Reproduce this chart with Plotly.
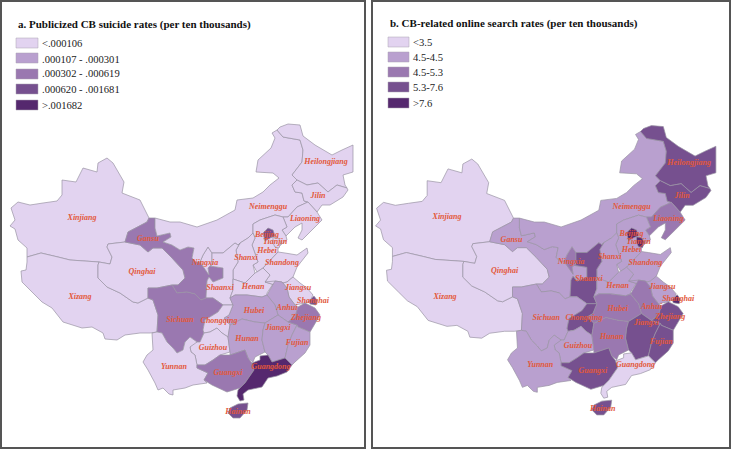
import plotly.graph_objects as go

W, H = 733, 450

# Province outlines, in map units
XINJIANG = [(107,158),(98,163),(97,172),(83,168),(76,182),(62,180),(62,195),(57,201),(43,203),(30,205),(18,202),(11,208),(15,220),(10,226),(15,229),(18,240),(27,248),(27,257),(41,253),(58,257),(70,260),(99,262),(110,264),(112,257),(107,247),(108,244),(125,242),(128,232),(147,222),(149,218),(140,200),(122,193),(124,182),(113,163)]
XIZANG = [(27,257),(41,253),(58,257),(70,260),(99,262),(98,265),(98,278),(107,287),(120,293),(133,302),(138,303),(148,298),(153,300),(158,315),(157,332),(150,333),(140,333),(125,335),(117,340),(105,339),(103,333),(92,327),(82,328),(63,322),(52,308),(42,302),(33,293),(22,282),(21,271),(26,270),(27,262)]
QINGHAI = [(99,262),(110,264),(112,257),(107,247),(108,244),(125,242),(140,245),(148,252),(153,248),(162,248),(172,258),(183,270),(185,278),(178,285),(172,285),(157,288),(148,288),(148,298),(138,303),(133,302),(120,293),(107,287),(98,278),(98,265)]
GANSU = [(125,242),(128,232),(147,222),(149,218),(155,218),(155,228),(157,236),(170,233),(171,237),(163,242),(172,245),(180,250),(188,247),(194,248),(192,258),(196,262),(200,262),(209,275),(208,268),(210,266),(223,268),(223,278),(213,282),(209,277),(207,281),(206,298),(201,300),(195,294),(187,292),(177,293),(172,285),(178,285),(185,278),(183,270),(172,258),(162,248),(153,248),(148,252),(140,245)]
NINGXIA = [(208,247),(203,255),(200,262),(209,275),(208,268),(210,266),(212,265),(212,253)]
NEIMENGGU = [(155,218),(170,222),(180,222),(197,227),(217,220),(235,210),(237,200),(253,198),(263,192),(270,185),(279,178),(273,173),(256,172),(258,160),(271,148),(275,138),(272,133),(277,130),(283,137),(300,140),(303,150),(302,162),(292,175),(297,180),(292,185),(295,192),(302,193),(304,201),(308,202),(297,207),(288,217),(283,217),(275,215),(260,220),(253,224),(253,233),(248,238),(240,243),(238,245),(235,243),(223,253),(212,253),(208,247),(203,255),(200,262),(196,262),(192,258),(194,248),(188,247),(180,250),(172,245),(163,242),(171,237),(170,233),(157,236),(155,228)]
HEILONGJIANG = [(277,130),(280,127),(288,124),(300,125),(303,136),(315,145),(332,155),(342,150),(353,145),(353,172),(343,175),(345,185),(347,188),(337,185),(328,192),(318,183),(307,185),(297,180),(292,175),(302,162),(303,150),(300,140),(283,137)]
JILIN = [(297,180),(307,185),(318,183),(328,192),(337,185),(347,188),(348,190),(343,197),(330,205),(322,205),(317,212),(308,202),(304,201),(302,193),(295,192),(292,185)]
LIAONING = [(308,202),(297,207),(288,217),(283,217),(287,227),(282,230),(286,236),(295,227),(302,223),(302,230),(298,238),(302,240),(312,230),(322,220),(317,212)]
HEBEI = [(253,233),(253,224),(260,220),(275,215),(283,217),(287,227),(282,230),(286,236),(287,240),(278,247),(278,252),(263,268),(257,272),(253,265),(258,262),(252,245),(255,238)]
BEIJING = [(268,228),(273,230),(275,236),(270,238),(265,241),(263,233)]
TIANJIN = [(273,237),(278,238),(281,242),(279,248),(275,247),(273,243)]
SHANXI = [(253,233),(248,238),(240,243),(236,250),(238,262),(233,270),(233,279),(245,283),(255,273),(253,265),(258,262),(252,245),(255,238)]
SHANDONG = [(278,252),(263,268),(270,275),(265,282),(275,285),(287,282),(293,277),(297,267),(308,253),(307,248),(297,255),(285,253)]
SHAANXI = [(212,253),(223,253),(235,243),(238,245),(240,243),(236,250),(238,262),(233,270),(233,279),(233,290),(230,298),(233,305),(223,305),(213,298),(206,298),(207,281),(209,277),(213,282),(223,278),(223,268),(210,266),(212,265)]
HENAN = [(233,279),(245,283),(255,273),(257,272),(263,268),(270,275),(265,282),(275,285),(275,281),(267,293),(267,295),(262,297),(247,295),(235,295),(230,298),(233,290)]
JIANGSU = [(265,282),(275,281),(282,282),(287,288),(289,297),(295,305),(305,303),(310,301),(313,295),(307,288),(300,283),(293,277),(287,282),(275,285)]
SHANGHAI = [(309,301),(314,296),(317,300),(316,305),(310,304)]
ANHUI = [(267,295),(275,281),(282,282),(287,288),(289,297),(295,305),(298,307),(295,317),(288,322),(278,315),(275,305)]
HUBEI = [(230,298),(235,295),(247,295),(262,297),(267,295),(275,305),(278,315),(265,323),(255,322),(242,319),(230,325),(224,318),(229,315),(233,305)]
SICHUAN = [(148,288),(157,288),(172,285),(177,293),(187,292),(195,294),(201,300),(206,298),(213,298),(223,305),(218,312),(205,320),(203,330),(204,333),(200,342),(197,342),(190,337),(185,342),(183,350),(177,353),(173,348),(167,342),(162,333),(157,332),(158,315),(153,300),(148,298)]
CHONGQING = [(205,320),(218,312),(223,305),(233,305),(229,315),(224,318),(230,325),(228,337),(222,333),(217,328),(210,332),(204,333),(203,330)]
GUIZHOU = [(190,347),(195,342),(200,342),(204,333),(210,332),(217,328),(222,333),(228,337),(230,352),(220,355),(213,360),(205,365),(197,365),(195,355),(191,352)]
YUNNAN = [(157,332),(162,333),(167,342),(173,348),(177,353),(183,350),(185,342),(190,337),(197,342),(190,347),(191,352),(195,355),(197,365),(197,368),(208,373),(204,380),(207,383),(193,385),(185,388),(173,390),(173,395),(169,394),(163,388),(158,390),(155,383),(148,370),(143,362),(147,355),(153,350),(152,333)]
HUNAN = [(230,325),(242,319),(255,322),(265,323),(263,330),(262,340),(265,352),(255,357),(253,362),(248,358),(245,350),(230,355),(230,352),(228,337)]
JIANGXI = [(263,330),(265,323),(278,315),(288,322),(297,325),(292,335),(288,345),(285,358),(272,362),(268,355),(265,352),(262,340)]
ZHEJIANG = [(295,317),(298,307),(305,303),(315,308),(320,315),(313,327),(310,332),(298,327),(297,325),(288,322)]
FUJIAN = [(297,325),(298,327),(310,332),(310,345),(305,353),(295,362),(292,365),(285,358),(288,345),(292,335)]
GUANGXI = [(197,368),(197,365),(205,365),(213,360),(220,355),(230,355),(245,350),(248,358),(252,363),(254,370),(245,383),(240,388),(227,392),(212,385),(204,380),(208,373)]
GUANGDONG = [(252,363),(260,360),(260,356),(268,355),(272,362),(285,358),(292,365),(287,372),(277,376),(268,378),(262,387),(248,390),(243,394),(244,400),(240,401),(237,396),(238,390),(245,383),(254,370)]
HAINAN = [(230,408),(238,404),(248,403),(247,410),(240,418),(233,418),(228,413)]

OUTLINES = [XINJIANG, XIZANG, QINGHAI, GANSU, NINGXIA, NEIMENGGU, HEILONGJIANG, JILIN, LIAONING, HEBEI, SHANXI, SHANDONG, SHAANXI, HENAN, JIANGSU, ANHUI, HUBEI, SICHUAN, CHONGQING, GUIZHOU, YUNNAN, HUNAN, JIANGXI, ZHEJIANG, FUJIAN, GUANGXI, GUANGDONG, HAINAN, BEIJING, TIANJIN, SHANGHAI]
# Rate class (0-4) of each outline above
CLASS_A = [0,0,0,2,0,0,0,0,0,0,0,0,0,0,0,1,1,2,0,0,0,1,1,2,1,2,4,3,3,0,3]
CLASS_B = [0,0,0,1,2,1,3,3,2,1,1,1,3,1,1,2,2,1,3,1,1,2,3,3,3,3,0,3,4,4,4]

COLORS = ["#E2D3F0", "#B9A0CF", "#9A78B0", "#76508F", "#55286E"]
TITLE_A = "a. Publicized CB suicide rates (per ten thousands)"
TITLE_B = "b. CB-related online search rates (per ten thousands)"
LEGEND_A = ["<.000106", ".000107 - .000301", ".000302 - .000619", ".000620 - .001681", ">.001682"]
LEGEND_B = ["<3.5", "4.5-4.5", "4.5-5.3", "5.3-7.6", ">7.6"]

LABELS = ["Xinjiang","Xizang","Qinghai","Gansu","Ningxia","Shaanxi","Sichuan","Chongqing","Guizhou","Yunnan","Guangxi","Guangdong","Hainan","Hunan","Hubei","Jiangxi","Anhui","Zhejiang","Fujian","Shanghai","Jiangsu","Shandong","Henan","Shanxi","Hebei","Tianjin","Beijing","Liaoning","Jilin","Heilongjiang","Neimenggu"]
LABEL_X = [82,80,142,148,205,220,180,219,213,174,228,271,238,247,254,278,287,306,297,313,298,282,253,246,267,275,267,305,318,326,268]
LABEL_Y = [218,297,272,239,263,288,320,321,348,367,373,367,412,339,311,328,308,318,343,301,288,263,287,258,251,242,235,219,196,162,207]
LABEL_X_B = [82,80,140,147,207,225,182,220,214,176,229,272,239,248,254,283,288,307,298,315,299,282,254,246,268,275,268,305,319,326,268]
LABEL_Y_B = [217,298,272,240,263,280,320,320,348,367,373,367,412,339,310,325,308,318,344,300,288,264,287,258,250,242,234,219,196,162,207]

fig = go.Figure()
for cls, ax, ay in ((CLASS_A, "x", "y"), (CLASS_B, "x2", "y2")):
    for poly, c in zip(OUTLINES, cls):
        fig.add_trace(go.Scatter(
            x=[p[0] for p in poly] + [poly[0][0]], y=[p[1] for p in poly] + [poly[0][1]],
            mode="lines", fill="toself", fillcolor=COLORS[c],
            line=dict(color="#9A93A3", width=0.7, simplify=False), xaxis=ax, yaxis=ay,
            showlegend=False, hoverinfo="skip"))
LABEL_FONT = dict(family="Liberation Serif", size=8, color="#E2583A", style="italic", weight="bold")
fig.add_trace(go.Scatter(x=LABEL_X, y=LABEL_Y, text=LABELS, mode="text", textposition="middle center",
                         textfont=LABEL_FONT, xaxis="x", yaxis="y", showlegend=False, hoverinfo="skip"))
fig.add_trace(go.Scatter(x=LABEL_X_B, y=LABEL_Y_B, text=LABELS, mode="text", textposition="middle center",
                         textfont=LABEL_FONT, xaxis="x2", yaxis="y2", showlegend=False, hoverinfo="skip"))

def px(x): return x / W
def py(y): return 1 - y / H

shapes, annotations = [], []
def panel_text(title, tx, ty, tsize, entries, x0, x1, y0s, hgt, lx, lys, lsize):
    annotations.append(dict(text=f"<b>{title}</b>", x=px(tx), y=py(ty), xref="paper", yref="paper",
                            xanchor="left", yanchor="middle", showarrow=False,
                            font=dict(family="Liberation Serif", size=tsize, color="#111")))
    for i, e in enumerate(entries):
        shapes.append(dict(type="rect", xref="paper", yref="paper", x0=px(x0), x1=px(x1),
                           y0=py(y0s[i]), y1=py(y0s[i] + hgt), fillcolor=COLORS[i],
                           line=dict(color="#A9A3B0", width=0.5)))
        annotations.append(dict(text=e.replace("<", "&lt;"), x=px(lx), y=py(lys[i]), xref="paper", yref="paper",
                                xanchor="left", yanchor="middle", showarrow=False,
                                font=dict(family="Liberation Serif", size=lsize, color="#222")))

panel_text(TITLE_A, 16, 24, 11, LEGEND_A, 16, 38, [38,53,69,84,100], 10, 40, [43,59,74,90,106], 10.6)
panel_text(TITLE_B, 388, 23, 11, LEGEND_B, 388, 409, [37,52,67,82,98], 10, 411, [42,57,72,87,103], 10.6)

def axis(domain, rng, anchor):
    return dict(domain=domain, range=rng, anchor=anchor, showgrid=False, zeroline=False, showticklabels=False,
                ticks="", showline=True, mirror=True, linecolor="#555555", linewidth=2, fixedrange=True)

fig.update_layout(
    width=W, height=H, margin=dict(l=0, r=0, t=0, b=0), paper_bgcolor="white", plot_bgcolor="white",
    showlegend=False, shapes=shapes, annotations=annotations,
    xaxis=axis([2/W, 364/W], [2, 364], "y"),
    yaxis=axis([3/H, 448/H], [447, 2], "x"),
    xaxis2=axis([373/W, 729/W], [7.4, 366.2], "y2"),
    yaxis2=axis([3/H, 448/H], [450.6, -1.6], "x2"),
)
fig.write_html("out.html", config={"displayModeBar": False}, post_script="document.body.style.margin='0';document.documentElement.style.overflow='hidden';")
